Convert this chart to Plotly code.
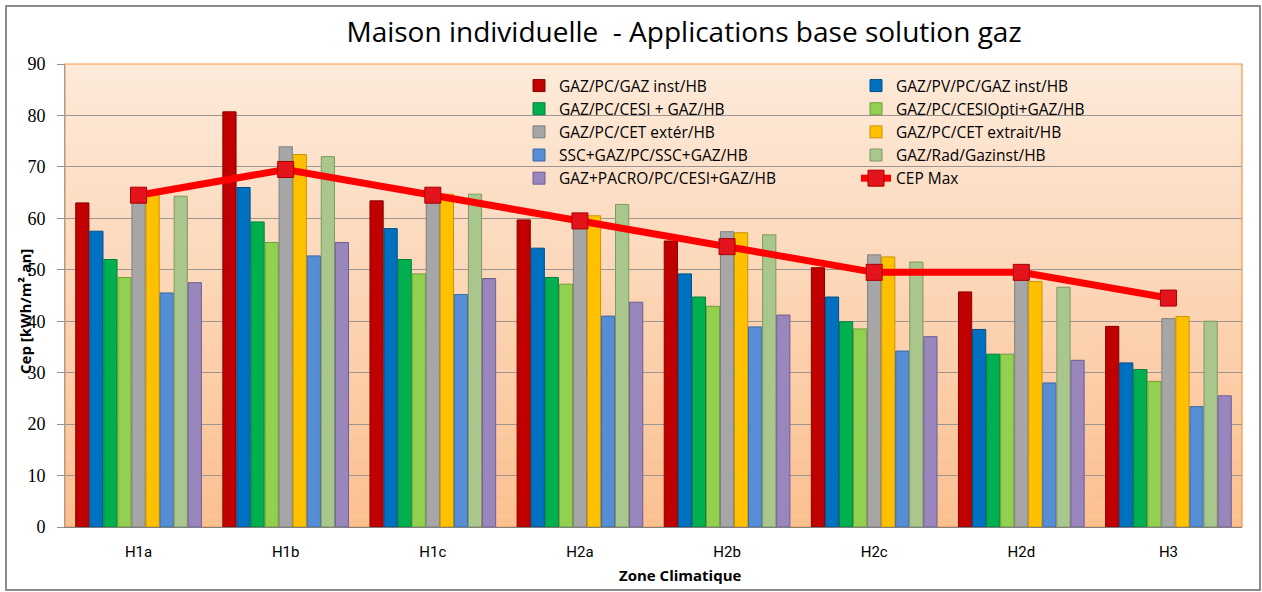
import plotly.graph_objects as go

zones = ["H1a", "H1b", "H1c", "H2a", "H2b", "H2c", "H2d", "H3"]

series_names = [
    "GAZ/PC/GAZ inst/HB",
    "GAZ/PV/PC/GAZ inst/HB",
    "GAZ/PC/CESI + GAZ/HB",
    "GAZ/PC/CESIOpti+GAZ/HB",
    "GAZ/PC/CET extér/HB",
    "GAZ/PC/CET extrait/HB",
    "SSC+GAZ/PC/SSC+GAZ/HB",
    "GAZ/Rad/Gazinst/HB",
    "GAZ+PACRO/PC/CESI+GAZ/HB",
]

gaz_pc_gaz_inst = [63.0, 80.7, 63.4, 59.7, 55.6, 50.4, 45.7, 39.0]
gaz_pv_pc_gaz_inst = [57.5, 66.0, 58.0, 54.2, 49.2, 44.7, 38.4, 31.9]
gaz_pc_cesi = [52.0, 59.3, 52.0, 48.5, 44.7, 39.9, 33.6, 30.6]
gaz_pc_cesiopti = [48.5, 55.3, 49.2, 47.2, 42.9, 38.5, 33.6, 28.3]
gaz_pc_cet_exter = [65.4, 73.9, 65.7, 60.8, 57.4, 52.9, 48.1, 40.5]
gaz_pc_cet_extrait = [64.5, 72.4, 64.7, 60.5, 57.2, 52.5, 47.7, 40.9]
ssc_gaz = [45.5, 52.7, 45.2, 41.0, 38.9, 34.2, 28.0, 23.4]
gaz_rad_gazinst = [64.3, 72.0, 64.7, 62.7, 56.8, 51.5, 46.6, 40.0]
gaz_pacro = [47.5, 55.3, 48.3, 43.7, 41.2, 37.0, 32.4, 25.5]

cep_max = [64.5, 69.5, 64.5, 59.5, 54.5, 49.5, 49.5, 44.5]

series_values = [
    gaz_pc_gaz_inst, gaz_pv_pc_gaz_inst, gaz_pc_cesi, gaz_pc_cesiopti,
    gaz_pc_cet_exter, gaz_pc_cet_extrait, ssc_gaz, gaz_rad_gazinst, gaz_pacro,
]

colors = ["#C00000", "#0070C0", "#00B050", "#92D050", "#A6A6A6",
          "#FFC000", "#558ED5", "#A9C68C", "#9886BC"]
line_colors = ["#8A0000", "#00508A", "#00803A", "#6E9E3A", "#7F7F7F",
               "#C89600", "#3A6AA6", "#7E9A62", "#6F5E93"]

fig = go.Figure()
for i, (name, vals) in enumerate(zip(series_names, series_values)):
    fig.add_trace(go.Bar(
        x=zones, y=vals, name=name,
        marker=dict(color=colors[i], line=dict(color=line_colors[i], width=1)),
        legend="legend" if i % 2 == 0 else "legend2",
    ))

fig.add_trace(go.Scatter(
    x=zones, y=cep_max, name="CEP Max", mode="lines+markers",
    line=dict(color="#FF0000", width=7),
    marker=dict(symbol="square", size=16, color="#E3141C",
                line=dict(color="#A80000", width=1)),
    legend="legend2",
))

# plot area geometry (px)
L, R, T, B = 65, 20, 64, 65
W = 1262 - L - R
H = 592 - T - B

shapes = []
# gradient background
n = 40
top = (253, 234, 218)
bot = (251, 192, 144)
for k in range(n):
    f = k / (n - 1)
    c = tuple(round(top[j] + (bot[j] - top[j]) * f) for j in range(3))
    shapes.append(dict(type="rect", xref="paper", yref="paper",
                       x0=0, x1=1, y0=1 - (k + 1) / n, y1=1 - k / n,
                       fillcolor="rgb(%d,%d,%d)" % c, line=dict(width=0),
                       layer="below"))
# plot area border (orange)
shapes.append(dict(type="rect", xref="paper", yref="paper", x0=0, x1=1, y0=0, y1=1,
                   line=dict(color="#F79646", width=1.2), layer="below"))
# outer chart border
shapes.append(dict(type="rect", xref="paper", yref="paper",
                   x0=(6 - L) / W, x1=(1260 - L) / W,
                   y0=(592 - B - 590) / H, y1=(592 - B - 6) / H,
                   line=dict(color="#8C8C8C", width=2), layer="below"))

leg_font = dict(family="Open Sans", size=15.5, color="black")

fig.update_layout(
    width=1262, height=592,
    margin=dict(l=L, r=R, t=T, b=B),
    paper_bgcolor="white",
    plot_bgcolor="#FCDCC4",
    barmode="group",
    bargap=0.14,
    bargroupgap=0.06,
    shapes=shapes,
    title=dict(text="Maison individuelle  - Applications base solution gaz",
               font=dict(family="Open Sans", size=28, color="black"),
               x=684 / 1262, xref="container", xanchor="center",
               y=1 - 32 / 592, yref="container", yanchor="middle"),
    font=dict(family="Open Sans", color="black"),
    legend=dict(x=(519 - L) / W, y=(527 - 69) / H, xanchor="left", yanchor="top",
                bgcolor="rgba(0,0,0,0)", font=leg_font,
                tracegroupgap=0, itemwidth=30),
    legend2=dict(x=(856 - L) / W, y=(527 - 69) / H, xanchor="left", yanchor="top",
                 bgcolor="rgba(0,0,0,0)", font=leg_font,
                 tracegroupgap=0, itemwidth=30),
    showlegend=True,
    annotations=[
        dict(text="<b>Cep [kWh/m².an]</b>", textangle=-90, xref="paper", yref="paper",
             x=(25 - L) / W, y=(527 - 312) / H, xanchor="center", yanchor="middle",
             showarrow=False, font=dict(family="Open Sans", size=15)),
        dict(text="<b>Zone Climatique</b>", xref="paper", yref="paper",
             x=(680 - L) / W, y=(527 - 575) / H, xanchor="center", yanchor="middle",
             showarrow=False, font=dict(family="Open Sans", size=15)),
    ],
)

fig.update_xaxes(showgrid=False, showline=True, linecolor="#808080", linewidth=1,
                 tickfont=dict(family="Roboto", size=15), ticks="",
                 ticklabelstandoff=11)
fig.update_yaxes(range=[0, 90], dtick=10, showgrid=True, gridcolor="#9C9692",
                 gridwidth=1.3, zeroline=False, showline=True, linecolor="#A0A0A0",
                 ticks="outside", ticklen=7, tickcolor="#909090",
                 tickfont=dict(family="Liberation Serif", size=18),
                 ticklabelstandoff=8)

fig.write_html("out.html", config={"displayModeBar": False},
               post_script="document.body.style.margin='0';")
